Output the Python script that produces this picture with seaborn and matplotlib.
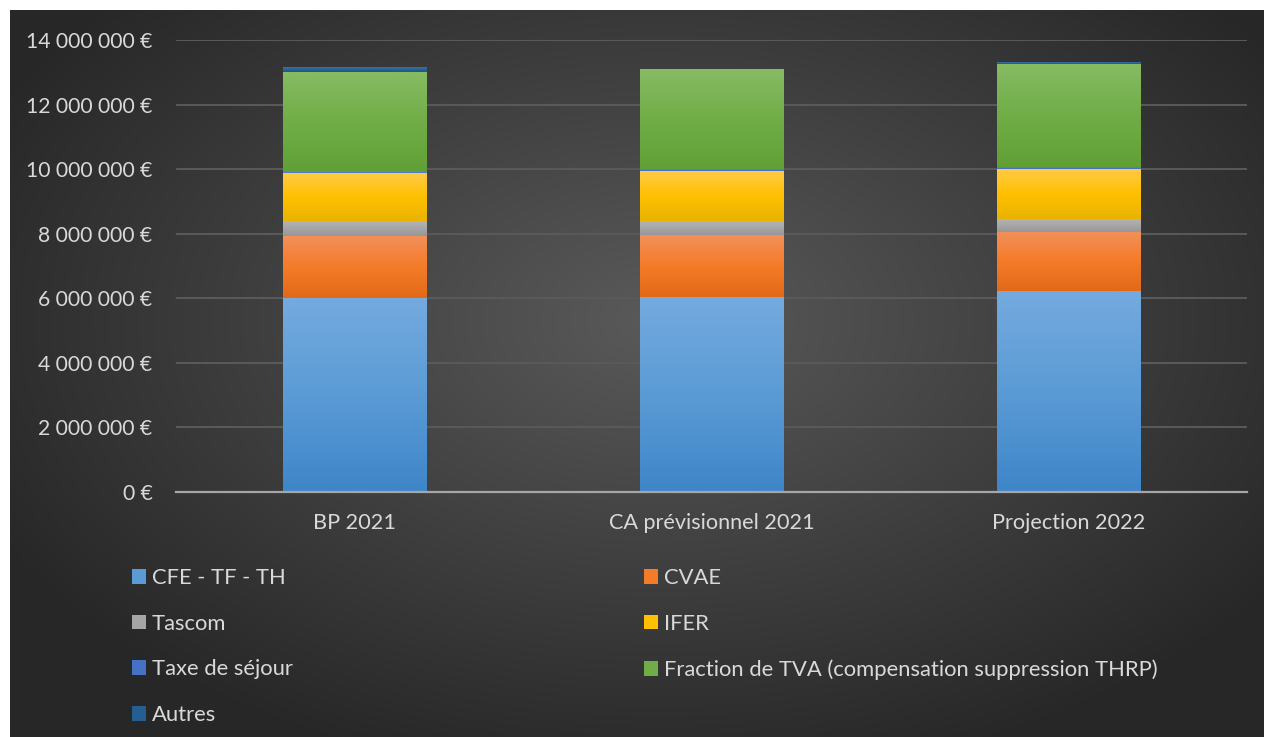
import numpy as np
import matplotlib
matplotlib.use("Agg")
import matplotlib.pyplot as plt
import seaborn as sns
from matplotlib.patches import Patch
from matplotlib.ticker import FuncFormatter
from matplotlib.colors import to_rgb

# Recettes fiscales par poste (en euros)
categories = ["BP 2021", "CA prévisionnel 2021", "Projection 2022"]
series_names = [
    "CFE - TF - TH",
    "CVAE",
    "Tascom",
    "IFER",
    "Taxe de séjour",
    "Fraction de TVA (compensation suppression THRP)",
    "Autres",
]
cfe_tf_th = [6.00e6, 6.03e6, 6.22e6]
cvae = [1.89e6, 1.90e6, 1.80e6]
tascom = [0.47e6, 0.46e6, 0.43e6]
ifer = [1.49e6, 1.52e6, 1.53e6]
taxe_sejour = [0.06e6, 0.09e6, 0.08e6]
fraction_tva = [3.07e6, 3.07e6, 3.16e6]
autres = [0.18e6, 0.03e6, 0.07e6]

series_values = [cfe_tf_th, cvae, tascom, ifer, taxe_sejour, fraction_tva, autres]

# (haut, milieu, bas) de chaque dégradé vertical
gradients = [
    ("#74aadf", "#5b9bd5", "#3e86c9"),
    ("#f29059", "#f47b28", "#e26917"),
    ("#b4b4b4", "#a5a5a5", "#959595"),
    ("#ffca45", "#ffc000", "#e8b300"),
    ("#5b86d4", "#4472c4", "#3a64b0"),
    ("#86bb63", "#70ad47", "#61a036"),
    ("#3a72a8", "#255e91", "#1f527f"),
]

TEXT = "#d9d9d9"
W, H = 1264, 737

sns.set_theme(style="dark")
plt.rcParams["font.family"] = ["Lato", "DejaVu Sans"]

fig = plt.figure(figsize=(W / 100, H / 100), dpi=100, facecolor="white")

# Fond sombre en dégradé radial
bg = fig.add_axes([10 / W, 0, 1 - 10 / W, 1 - 10 / H])
bg.set_axis_off()
pw, ph = W - 10, H - 10
yy, xx = np.mgrid[0:ph, 0:pw]
d = np.sqrt(((xx - 650) / 760.0) ** 2 + ((yy - 310) / 470.0) ** 2)
shade = (0x5a - (0x5a - 0x27) * np.clip(d, 0, 1)) / 255.0
bg.imshow(np.dstack([shade] * 3), aspect="auto", extent=(0, 1, 0, 1), origin="upper")
bg.set_xlim(0, 1)
bg.set_ylim(0, 1)

ax = fig.add_axes([176 / W, 1 - 492 / H, (1247 - 176) / W, (492 - 40) / H])
ax.patch.set_alpha(0)

cum = np.cumsum(np.array(series_values), axis=0)

# Barres empilées : totaux cumulés dessinés du haut vers le bas
drawn = {}
for i in reversed(range(len(series_names))):
    start = len(ax.patches)
    sns.barplot(x=categories, y=cum[i], color=gradients[i][1], saturation=1,
                width=0.403, ax=ax, zorder=2, linewidth=0, edgecolor="none")
    drawn[i] = ax.patches[start:]

ymax = 14e6
ax.set_ylim(0, ymax)
xlim = ax.get_xlim()


def ramp(c_top, c_mid, c_bot, n=64):
    t = np.linspace(0, 1, n)[:, None]
    a, b, c = (np.array(to_rgb(x)) for x in (c_top, c_mid, c_bot))
    top_half = a + (b - a) * np.clip(t * 2, 0, 1)
    return np.where(t < 0.5, top_half, b + (c - b) * np.clip(t * 2 - 1, 0, 1))[:, None, :]


for i, patches in drawn.items():
    img = ramp(*gradients[i])
    for j, p in enumerate(patches):
        lo = cum[i - 1][j] if i > 0 else 0.0
        hi = cum[i][j]
        x0 = p.get_x()
        ax.imshow(img, extent=(x0, x0 + p.get_width(), lo, hi), aspect="auto",
                  origin="upper", zorder=3, interpolation="bilinear")

ax.set_xlim(xlim)
ax.set_ylim(0, ymax)
ax.set_yticks(np.arange(0, ymax + 1, 2e6))
ax.yaxis.set_major_formatter(FuncFormatter(lambda v, _: f"{v:,.0f}".replace(",", " ") + " €"))

ax.yaxis.grid(True, color="#5a5a5a", linewidth=1.4)
ax.xaxis.grid(False)
ax.set_axisbelow(True)
for side in ("left", "right", "top"):
    ax.spines[side].set_visible(False)
ax.spines["bottom"].set_color("#a6a6a6")
ax.spines["bottom"].set_linewidth(1.6)
ax.spines["bottom"].set_zorder(4)

ax.tick_params(axis="y", length=0, pad=17, labelsize=15.2, labelcolor=TEXT)
ax.tick_params(axis="x", length=0, pad=15, labelsize=15.6, labelcolor=TEXT)
ax.set_xlabel("")
ax.set_ylabel("")

# Légende sur deux colonnes
handles = [Patch(facecolor=g[1], edgecolor="none") for g in gradients]
col1 = [0, 2, 4, 6]
col2 = [1, 3, 5]
for idx, xpx in ((col1, 132), (col2, 644)):
    fig.legend([handles[k] for k in idx], [series_names[k] for k in idx],
               loc="upper left", bbox_to_anchor=(xpx / W, 1 - 568 / H),
               frameon=False, fontsize=15.8, labelcolor=TEXT,
               handlelength=0.65, handleheight=0.65, handletextpad=0.25,
               labelspacing=1.17, borderpad=0, borderaxespad=0)

fig.savefig("out.png", dpi=100, facecolor="white")
